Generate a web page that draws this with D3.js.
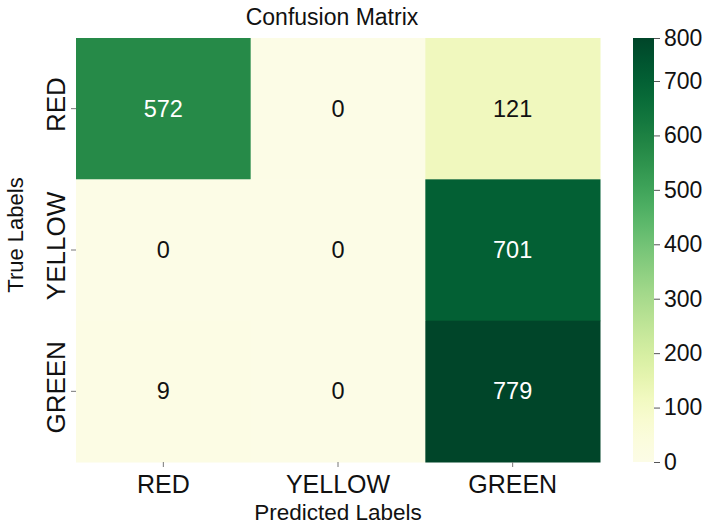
<!DOCTYPE html>
<html>
<head>
<meta charset="utf-8">
<script src="https://cdn.jsdelivr.net/npm/d3@7"></script>
<style>
  html, body { margin: 0; padding: 0; background: #fff; }
  svg { display: block; font-family: "Liberation Sans", Arial, sans-serif; }
</style>
</head>
<body>
<svg id="chart" width="713" height="526"></svg>
<script>
// Class names for the rows (true) and columns (predicted)
const trueLabels = ["RED", "YELLOW", "GREEN"];
const predictedLabels = ["RED", "YELLOW", "GREEN"];

// Counts per true class, one value per predicted class
const rowRed = [572, 0, 121];
const rowYellow = [0, 0, 701];
const rowGreen = [9, 0, 779];

// Colour bar tick labels
const colorbarTicks = [0, 100, 200, 300, 400, 500, 600, 700, 800];

const matrix = [rowRed, rowYellow, rowGreen];
const cells = [];
matrix.forEach((row, i) => row.forEach((v, j) => {
  cells.push({ t: trueLabels[i], p: predictedLabels[j], v });
}));

const svg = d3.select("#chart");
const plot = { left: 76, top: 38, width: 524, height: 424 };
const bar = { left: 633, width: 21 };

const vmax = d3.max(cells, d => d.v);
// YlGn ramp with a slightly softened light end
const ramp = t => d3.interpolateRgb("#fafae6", d3.interpolateYlGn(t))(Math.min(1, 0.35 + t * 3));
const color = d3.scaleSequential(t => t < 0.2167 ? ramp(t) : d3.interpolateYlGn(t)).domain([0, vmax]);

const x = d3.scaleBand().domain(predictedLabels).range([plot.left, plot.left + plot.width]);
const y = d3.scaleBand().domain(trueLabels).range([plot.top, plot.top + plot.height]);

// Heatmap cells
svg.append("g").selectAll("rect")
  .data(cells)
  .join("rect")
  .attr("x", d => x(d.p))
  .attr("y", d => y(d.t))
  .attr("width", x.bandwidth() + 0.5)
  .attr("height", y.bandwidth() + 0.5)
  .attr("fill", d => color(d.v));

// Cell annotations, white on dark cells
svg.append("g").selectAll("text")
  .data(cells)
  .join("text")
  .attr("x", d => x(d.p) + x.bandwidth() / 2)
  .attr("y", d => y(d.t) + y.bandwidth() / 2)
  .attr("text-anchor", "middle")
  .attr("dominant-baseline", "central")
  .attr("font-size", 23.5)
  .attr("fill", d => {
    const c = d3.hsl(color(d.v));
    return c.l < 0.45 ? "#ffffff" : "#111111";
  })
  .text(d => d.v);

// Bottom axis
const xAxis = svg.append("g")
  .attr("transform", `translate(0,${plot.top + plot.height})`)
  .call(d3.axisBottom(x).tickSize(5).tickPadding(8));
xAxis.select(".domain").remove();
xAxis.selectAll(".tick line").attr("stroke", "#777");
xAxis.selectAll(".tick text").attr("font-size", 25).attr("fill", "#111")
  .attr("font-family", "Liberation Sans, Arial, sans-serif");

// Left axis with rotated labels
const yAxis = svg.append("g")
  .attr("transform", `translate(${plot.left},0)`)
  .call(d3.axisLeft(y).tickSize(5).tickPadding(0));
yAxis.select(".domain").remove();
yAxis.selectAll(".tick line").attr("stroke", "#777");
yAxis.selectAll(".tick text")
  .attr("font-size", 26).attr("fill", "#111")
  .attr("font-family", "Liberation Sans, Arial, sans-serif")
  .attr("text-anchor", "middle")
  .attr("dy", null)
  .attr("x", null)
  .attr("transform", "translate(-11,-4) rotate(-90)");

// Title and axis titles
svg.append("text")
  .attr("x", plot.left + plot.width / 2 - 6)
  .attr("y", 25)
  .attr("text-anchor", "middle")
  .attr("font-size", 23)
  .attr("fill", "#111")
  .text("Confusion Matrix");

svg.append("text")
  .attr("x", plot.left + plot.width / 2)
  .attr("y", 520)
  .attr("text-anchor", "middle")
  .attr("font-size", 22.5)
  .attr("fill", "#111")
  .text("Predicted Labels");

svg.append("text")
  .attr("transform", `translate(23,${plot.top + plot.height / 2 - 15}) rotate(-90)`)
  .attr("text-anchor", "middle")
  .attr("font-size", 22)
  .attr("fill", "#111")
  .text("True Labels");

// Colour bar
const cbScale = d3.scaleLinear()
  .domain([0, vmax])
  .range([plot.top + plot.height, plot.top])
  .clamp(true);

const grad = svg.append("defs").append("linearGradient")
  .attr("id", "cbGrad")
  .attr("x1", 0).attr("y1", 1).attr("x2", 0).attr("y2", 0);
d3.range(0, 1.0001, 0.05).forEach(t => {
  grad.append("stop")
    .attr("offset", t)
    .attr("stop-color", color(t * vmax));
});

svg.append("rect")
  .attr("x", bar.left)
  .attr("y", plot.top)
  .attr("width", bar.width)
  .attr("height", plot.height)
  .attr("fill", "url(#cbGrad)");

const cbAxis = svg.append("g")
  .attr("transform", `translate(${bar.left + bar.width},0)`)
  .call(d3.axisRight(cbScale).tickValues(colorbarTicks).tickSize(6).tickPadding(4));
cbAxis.select(".domain").remove();
cbAxis.selectAll(".tick line").attr("stroke", "#555");
cbAxis.selectAll(".tick text").attr("font-size", 23).attr("fill", "#111")
  .attr("font-family", "Liberation Sans, Arial, sans-serif");
</script>
</body>
</html>
